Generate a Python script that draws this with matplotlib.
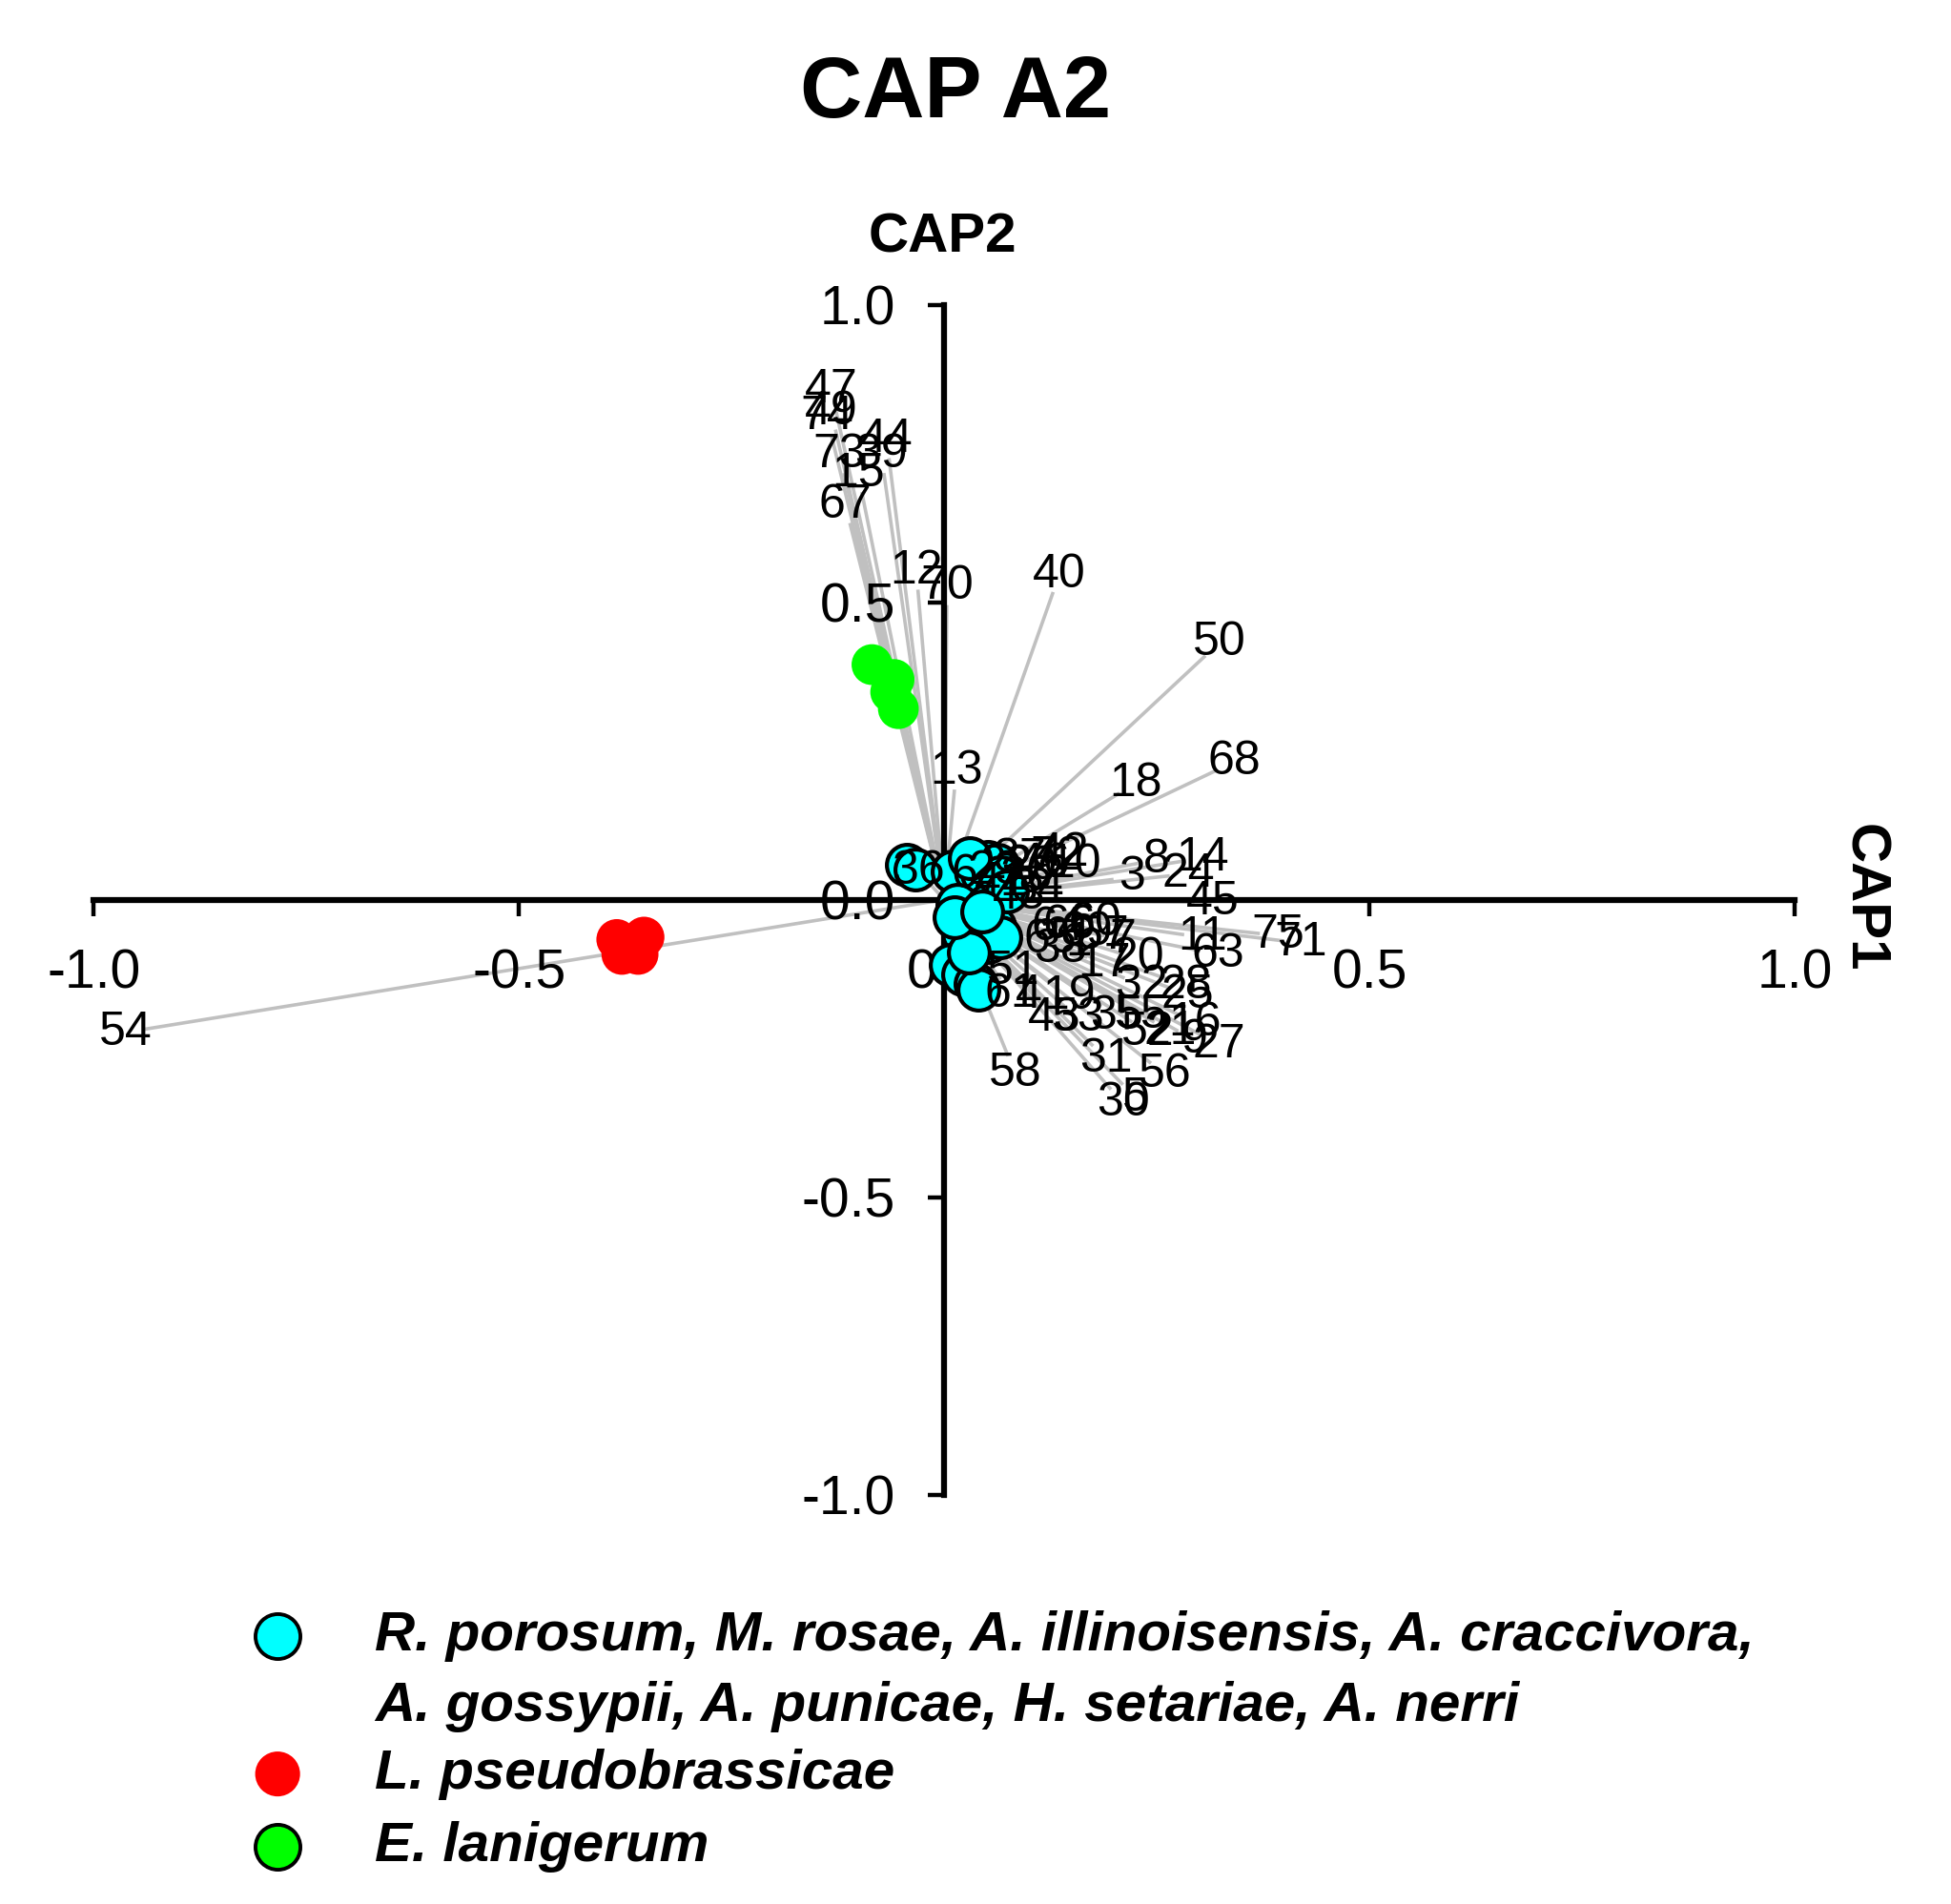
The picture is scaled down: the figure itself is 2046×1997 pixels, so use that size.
import numpy as np
import matplotlib
matplotlib.use("Agg")
import matplotlib.pyplot as plt

plt.rcParams['font.family'] = ['Liberation Sans', 'DejaVu Sans']

# --- data: vector tips (CAP1, CAP2) and their labels ---
vec_labels = [
    "47", "49", "74", "73", "15", "44", "39", "67", "12", "70", "40", "50", "68", "18", "13", "54",
    "14", "8", "24", "3", "45",
    "42", "72", "10", "46", "37", "29", "22", "2", "26", "34", "48", "41", "23", "6", "36",
    "11", "63", "75", "71", "60", "57", "7", "64", "66", "69", "65", "38", "1", "17", "20",
    "32", "28", "25", "19", "53", "43", "35", "55", "52", "21", "16", "9", "27", "31", "56",
    "30", "5", "58", "61", "51", "4",
]
vec_x = [
    -0.128, -0.128, -0.133, -0.118, -0.097, -0.065, -0.071, -0.111, -0.031, 0.003, 0.128, 0.307, 0.321, 0.206, 0.012, -0.941,
    0.282, 0.228, 0.265, 0.199, 0.294,
    0.119, 0.112, 0.132, 0.097, 0.069, 0.082, 0.054, 0.103, 0.075, 0.088, 0.066, 0.046, 0.040, 0.010, -0.016,
    0.282, 0.301, 0.371, 0.397, 0.156, 0.166, 0.188, 0.112, 0.126, 0.146, 0.104, 0.116, 0.137, 0.168, 0.207,
    0.212, 0.263, 0.266, 0.129, 0.141, 0.115, 0.185, 0.213, 0.221, 0.247, 0.275, 0.275, 0.304, 0.175, 0.243,
    0.196, 0.210, 0.075, 0.066, 0.066, 0.085,
]
vec_y = [
    0.826, 0.790, 0.782, 0.717, 0.685, 0.742, 0.717, 0.633, 0.521, 0.495, 0.517, 0.410, 0.218, 0.179, 0.185, -0.218,
    0.065, 0.061, 0.040, 0.034, -0.004,
    0.067, 0.061, 0.050, 0.050, 0.053, 0.044, 0.042, 0.032, 0.029, 0.013, 0.004, 0.019, 0.032, 0.017, 0.025,
    -0.059, -0.086, -0.057, -0.069, -0.034, -0.055, -0.061, -0.040, -0.038, -0.048, -0.057, -0.071, -0.063, -0.097, -0.090,
    -0.132, -0.134, -0.149, -0.143, -0.179, -0.176, -0.179, -0.179, -0.206, -0.206, -0.193, -0.221, -0.229, -0.246, -0.275,
    -0.319, -0.311, -0.263, -0.134, -0.099, -0.137,
]

# --- data: sample scores per group ---
cyan_x = [-0.044, -0.034, 0.010, 0.051, 0.044, 0.063, 0.015, 0.051, 0.037, 0.059,
          0.022, 0.051, 0.066, 0.007, 0.022, 0.037, 0.040, 0.029, 0.066, 0.074,
          0.030, 0.012, 0.045]
cyan_y = [0.059, 0.050, 0.048, 0.063, 0.044, 0.059, -0.008, -0.008, -0.036, -0.046,
          -0.057, -0.071, -0.063, -0.109, -0.126, -0.141, -0.151, -0.088, 0.038, 0.013,
          0.070, -0.030, -0.020]
red_x = [-0.385, -0.353, -0.379, -0.360]
red_y = [-0.067, -0.063, -0.092, -0.092]
green_x = [-0.085, -0.059, -0.063, -0.054]
green_y = [0.395, 0.370, 0.349, 0.321]

ticks = [-1.0, -0.5, 0.0, 0.5, 1.0]
tick_labels = ["-1.0", "-0.5", "0.0", "0.5", "1.0"]

legend_lines = [
    "R. porosum, M. rosae, A. illinoisensis, A. craccivora,",
    "A. gossypii, A. punicae, H. setariae, A. nerri",
    "L. pseudobrassicae",
    "E. lanigerum",
]

fig = plt.figure(figsize=(20.46, 19.97), dpi=100)
ax = fig.add_axes([0.048, 0.215, 0.872, 0.625])
ax.set_xlim(-1, 1)
ax.set_ylim(-1, 1)
ax.patch.set_alpha(0)

for s in ["top", "right"]:
    ax.spines[s].set_visible(False)
ax.spines["left"].set_position(("data", 0))
ax.spines["bottom"].set_position(("data", 0))
for s in ["left", "bottom"]:
    ax.spines[s].set_linewidth(4.5)
    ax.spines[s].set_bounds(-1, 1)
    ax.spines[s].set_zorder(2)

ax.set_xticks(ticks)
ax.set_xticklabels(tick_labels)
ax.set_yticks(ticks)
ax.set_yticklabels(tick_labels)
ax.tick_params(axis="x", direction="out", length=12, width=3.2, labelsize=41, pad=25)
ax.tick_params(axis="y", direction="out", length=12, width=3.2, labelsize=41, pad=25)

# vectors
for lab, x, y in zip(vec_labels, vec_x, vec_y):
    ax.plot([0, x], [0, y], color="#c0c0c0", lw=2.6, zorder=1, solid_capstyle="butt")

# samples
ax.scatter(cyan_x, cyan_y, s=950, c="#00ffff", edgecolors="black", linewidths=3, zorder=3)
ax.scatter(red_x, red_y, s=950, c="#ff0000", edgecolors="none", zorder=3)
ax.scatter(green_x, green_y, s=950, c="#00ff00", edgecolors="none", zorder=3)

# vector labels, pushed out along the vector direction
o = ax.transData.transform((0, 0))
for lab, x, y in zip(vec_labels, vec_x, vec_y):
    p = ax.transData.transform((x, y))
    d = p - o
    u = d / np.hypot(*d)
    ax.annotate(lab, (x, y), xytext=(u[0] * 14, u[1] * 14), textcoords="offset points",
                ha="center", va="center", fontsize=36, zorder=4)

fig.text(0.490, 0.950, "CAP A2", ha="center", va="center", fontsize=65, fontweight="bold")
fig.text(0.483, 0.875, "CAP2", ha="center", va="center", fontsize=42, fontweight="bold")
fig.text(0.955, 0.5286, "CAP1", ha="center", va="center", fontsize=42, fontweight="bold", rotation=270)

# legend
lax = fig.add_axes([0, 0, 1, 1])
lax.set_xlim(0, 1)
lax.set_ylim(0, 1)
lax.axis("off")
lax.scatter([0.1423], [0.1405], s=1150, c="#00ffff", edgecolors="black", linewidths=2.8)
lax.scatter([0.1423], [0.0683], s=1150, c="#ff0000", edgecolors="none")
lax.scatter([0.1423], [0.0302], s=1150, c="#00ff00", edgecolors="black", linewidths=2.8)
for txt, yy in zip(legend_lines, [0.1405, 0.1038, 0.0683, 0.0302]):
    lax.text(0.1923, yy, txt, ha="left", va="center", fontsize=42,
             fontweight="bold", style="italic")

fig.savefig("out.png", dpi=100)
